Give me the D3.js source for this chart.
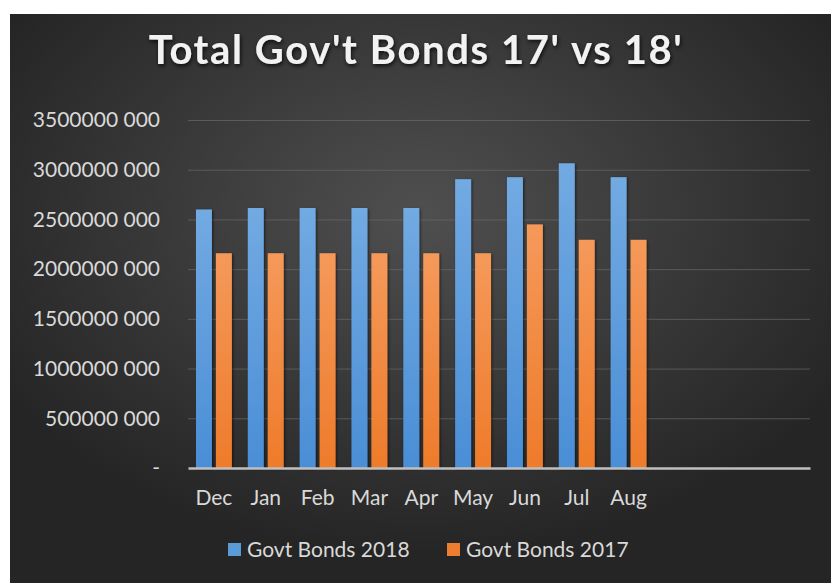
<!DOCTYPE html>
<html>
<head>
<meta charset="utf-8">
<title>Total Gov't Bonds 17' vs 18'</title>
<script src="https://cdnjs.cloudflare.com/ajax/libs/d3/7.8.5/d3.min.js"></script>
<style>
  body { margin: 0; background: #fff; }
  svg { display: block; font-family: Lato, "Open Sans", sans-serif; }
</style>
</head>
<body>
<div id="chart"></div>
<script>
// data
const months = ["Dec", "Jan", "Feb", "Mar", "Apr", "May", "Jun", "Jul", "Aug"];
const slotCount = 12; // the axis leaves room for Sep, Oct, Nov
const bonds2018 = [2600000000, 2615000000, 2615000000, 2615000000, 2615000000, 2905000000, 2925000000, 3065000000, 2925000000];
const bonds2017 = [2160000000, 2160000000, 2160000000, 2160000000, 2160000000, 2160000000, 2450000000, 2295000000, 2295000000];
const yTicks = [0, 500000000, 1000000000, 1500000000, 2000000000, 2500000000, 3000000000, 3500000000];
const seriesNames = ["Govt Bonds 2018", "Govt Bonds 2017"];

const W = 831, H = 583;
const plot = { left: 188, right: 810, top: 120, bottom: 468 };

const svg = d3.select("#chart").append("svg").attr("width", W).attr("height", H);
const defs = svg.append("defs");

const bg = defs.append("radialGradient").attr("id", "bg")
  .attr("cx", "50%").attr("cy", "35%").attr("r", "60%");
bg.append("stop").attr("offset", "0%").attr("stop-color", "#4f4f4f");
bg.append("stop").attr("offset", "100%").attr("stop-color", "#252525");

function barGrad(id, top, bottom) {
  const g = defs.append("linearGradient").attr("id", id).attr("x1", 0).attr("y1", 0).attr("x2", 0).attr("y2", 1);
  g.append("stop").attr("offset", "0%").attr("stop-color", top);
  g.append("stop").attr("offset", "100%").attr("stop-color", bottom);
}
barGrad("blue", "#72aae2", "#4a8ed6");
barGrad("orange", "#f5995a", "#ee7b2a");

const shadow = defs.append("filter").attr("id", "shadow").attr("x", "-30%").attr("y", "-10%").attr("width", "160%").attr("height", "130%");
shadow.append("feDropShadow").attr("dx", 1).attr("dy", 1).attr("stdDeviation", 1.5).attr("flood-color", "#000").attr("flood-opacity", 0.6);

const glow = defs.append("filter").attr("id", "glow").attr("x", "-10%").attr("y", "-30%").attr("width", "120%").attr("height", "160%");
glow.append("feDropShadow").attr("dx", 1).attr("dy", 2).attr("stdDeviation", 2).attr("flood-color", "#000").attr("flood-opacity", 0.8);

svg.append("rect").attr("x", 10).attr("y", 14).attr("width", W - 10).attr("height", H - 14).attr("fill", "url(#bg)");

svg.append("text")
  .attr("x", 416).attr("y", 64)
  .attr("text-anchor", "middle")
  .attr("fill", "#f2f2f2")
  .attr("font-size", 40).attr("font-weight", "bold")
  .attr("letter-spacing", 1.6)
  .attr("filter", "url(#glow)")
  .text("Total Gov't Bonds 17' vs 18'");

const x0 = d3.scaleBand().domain(d3.range(slotCount)).range([plot.left, plot.right]);
const x1 = d3.scaleBand().domain(seriesNames).range([0, x0.bandwidth()]).paddingInner(0.2).paddingOuter(0.4);
const y = d3.scaleLinear().domain([0, 3500000000]).range([plot.bottom, plot.top]);
const color = d3.scaleOrdinal().domain(seriesNames).range(["url(#blue)", "url(#orange)"]);
const swatch = d3.scaleOrdinal().domain(seriesNames).range(["#5b9bd5", "#ed7d31"]);

function fmt(v) {
  if (v === 0) return "-";
  return Math.floor(v / 1000) + " 000";
}

// gridlines
svg.append("g")
  .attr("transform", "translate(" + plot.left + ",0)")
  .call(d3.axisLeft(y).tickValues(yTicks.slice(1)).tickSize(-(plot.right - plot.left)).tickFormat(""))
  .call(g => g.select(".domain").remove())
  .selectAll("line").attr("stroke", "#6a6a6a").attr("stroke-width", 1).attr("stroke-opacity", 0.7);

// y labels
svg.append("g")
  .attr("transform", "translate(" + plot.left + ",0)")
  .call(d3.axisLeft(y).tickValues(yTicks).tickSize(0).tickPadding(28).tickFormat(fmt))
  .call(g => g.select(".domain").remove())
  .selectAll("text")
  .attr("fill", "#d9d9d9").attr("font-size", 21).attr("font-family", "Lato, sans-serif");

// bars
const rows = months.map((m, i) => ({ i: i, values: [
  { key: seriesNames[0], value: bonds2018[i] },
  { key: seriesNames[1], value: bonds2017[i] }
] }));

svg.append("g").selectAll("g")
  .data(rows)
  .enter().append("g")
  .attr("transform", d => "translate(" + x0(d.i) + ",0)")
  .selectAll("rect")
  .data(d => d.values)
  .enter().append("rect")
  .attr("x", d => x1(d.key))
  .attr("y", d => y(d.value))
  .attr("width", x1.bandwidth())
  .attr("height", d => y(0) - y(d.value))
  .attr("fill", d => color(d.key))
  .attr("filter", "url(#shadow)");

// x axis
svg.append("g")
  .attr("transform", "translate(0," + plot.bottom + ")")
  .call(d3.axisBottom(x0).tickSize(0).tickPadding(22).tickFormat(i => months[i] || ""))
  .call(g => g.select(".domain").attr("stroke", "#bfbfbf").attr("stroke-width", 2.5))
  .selectAll("text")
  .attr("fill", "#d9d9d9").attr("font-size", 21).attr("font-family", "Lato, sans-serif");

// legend
const legend = svg.append("g").attr("transform", "translate(0,550)");
const legendX = [228, 447];
seriesNames.forEach((name, i) => {
  const row = legend.append("g").attr("transform", "translate(" + legendX[i] + ",0)");
  row.append("rect").attr("x", 0).attr("y", -7).attr("width", 13).attr("height", 13).attr("fill", swatch(name));
  row.append("text").attr("x", 19).attr("y", 0).attr("dy", "0.35em")
    .attr("fill", "#d9d9d9").attr("font-size", 21).text(name);
});
</script>
</body>
</html>
